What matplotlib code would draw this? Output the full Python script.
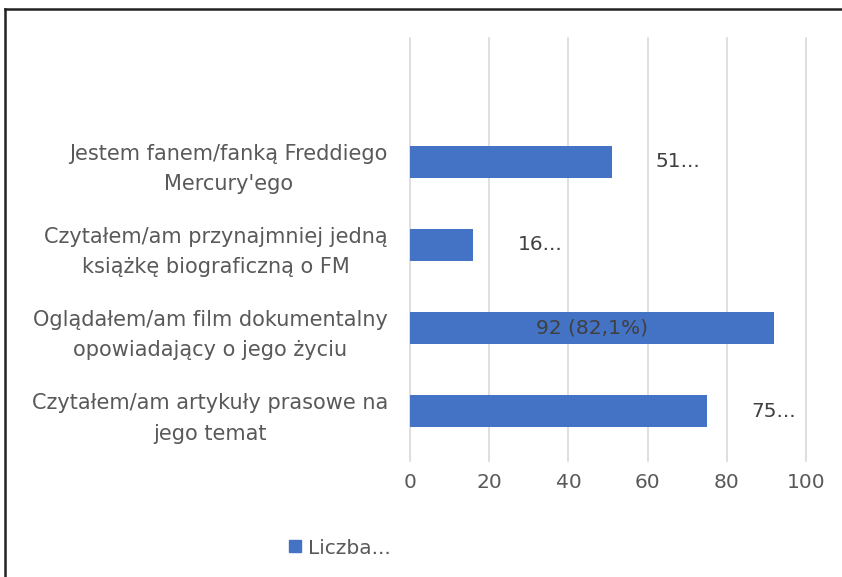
import matplotlib
matplotlib.use('Agg')
import matplotlib.pyplot as plt
from matplotlib.lines import Line2D

# Chart data (top to bottom as in the picture)
categories = [
    "Jestem fanem/fanką Freddiego\nMercury'ego",
    "Czytałem/am przynajmniej jedną\nksiążkę biograficzną o FM",
    "Oglądałem/am film dokumentalny\nopowiadający o jego życiu",
    "Czytałem/am artykuły prasowe na\njego temat",
]
values = [51, 16, 92, 75]
bar_labels = ["51...", "16...", "92 (82,1%)", "75..."]
label_inside = [False, False, True, False]
xticks = [0, 20, 40, 60, 80, 100]
legend_label = "Liczba..."

bar_color = '#4472C4'
text_color = '#595959'
label_color = '#404040'

plt.rcParams['font.family'] = ['DejaVu Sans']

fig = plt.figure(figsize=(8.42, 5.77), dpi=100)
ax = fig.add_axes([410 / 842, 1 - 461 / 577, 396 / 842, 423 / 577])

ypos = list(range(len(categories) - 1, -1, -1))
ax.barh(ypos, values, height=0.39, color=bar_color, zorder=3)

for y, v, lab, inside in zip(ypos, values, bar_labels, label_inside):
    if inside:
        ax.text(v / 2, y, lab, ha='center', va='center', fontsize=14.5,
                color=label_color, zorder=4)
    else:
        ax.annotate(lab, (v, y), xytext=(44, 0), textcoords='offset pixels',
                    ha='left', va='center', fontsize=14.5, color=label_color)

ax.set_xlim(0, 100)
ax.set_ylim(-0.60, 4.49)
ax.set_xticks(xticks)
ax.set_xticklabels([str(t) for t in xticks], fontsize=14.5, color=text_color)
ax.set_yticks(ypos)
ax.set_yticklabels(categories, fontsize=15, color=text_color)
for t in ax.get_yticklabels():
    t.set_multialignment('center')
    t.set_linespacing(1.65)
ax.tick_params(axis='both', length=0)
ax.tick_params(axis='y', pad=16)
ax.tick_params(axis='x', pad=9)
ax.grid(axis='x', color='#d9d9d9', linewidth=1.2, zorder=0)
for gl in ax.get_xgridlines():
    gl.set_clip_on(False)
for s in ax.spines.values():
    s.set_visible(False)

# legend
handle = Line2D([], [], marker='s', linestyle='none', markersize=8.5,
                color=bar_color)
fig.legend([handle], [legend_label], loc='center left',
           bbox_to_anchor=(287 / 842, 1 - 548 / 577), frameon=False,
           fontsize=14.5, handlelength=0.8, handletextpad=0.25,
           borderpad=0, borderaxespad=0, labelcolor=text_color)

# outer frame (top and left edges only)
fig.add_artist(Line2D([5 / 842, 1], [1 - 9 / 577, 1 - 9 / 577],
                      color='#222222', linewidth=1.8))
fig.add_artist(Line2D([5 / 842, 5 / 842], [0, 1 - 9 / 577],
                      color='#222222', linewidth=1.8))

fig.savefig('out.png', dpi=100)
